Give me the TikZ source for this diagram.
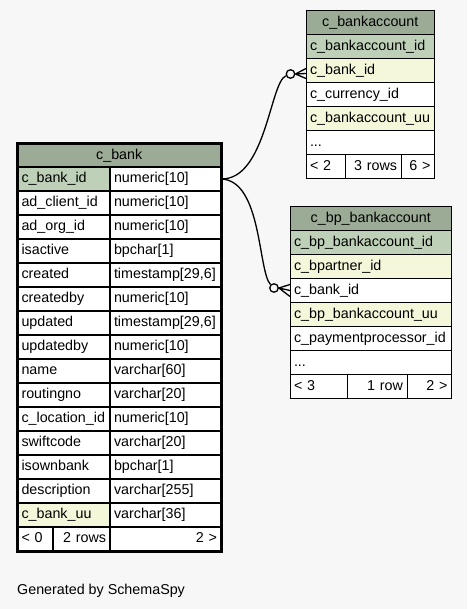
\documentclass[tikz,border=0pt]{standalone}
\usepackage{fontspec}
\setmainfont{Liberation Sans}
\usetikzlibrary{calc}
\definecolor{bg}{HTML}{F7F7F7}
\definecolor{hdrc}{HTML}{9BAB96}
\definecolor{pkc}{HTML}{BED1B8}
\definecolor{fkc}{HTML}{F4F7DA}
\newcommand\tabfont{\fontsize{14.3}{16}\selectfont}
\newcommand\moredots{...}
\tikzset{
  cell/.style 2 args={draw=black, line width=1pt, anchor=north west, outer sep=0pt,
    inner xsep=4pt, inner ysep=0pt, minimum height=24pt, minimum width=#1pt,
    text width=#2pt, font=\tabfont, text height=10.5pt, text depth=3pt},
  lft/.style={align=left},
  rgt/.style={align=right},
  ctr/.style={align=center},
  focus/.style={line width=1.6pt},
  rel/.style={line width=1.3pt, draw=black},
  opt/.style={circle, draw=black, line width=1.3pt, fill=bg, minimum size=8.5pt, inner sep=0pt},
}
\begin{document}
\begin{tikzpicture}[x=1pt,y=-1pt]
\fill[bg] (0,0) rectangle (467,609);
\useasboundingbox (0,0) rectangle (467,609);

% ---------------- c_bank ----------------
\node[cell={203.5}{195.5}, ctr, focus, fill=hdrc] (bank-h) at (17.5,143.5) {c\_bank};
\foreach \n/\t/\s [count=\i from 0] in {
  c\_bank\_id/numeric[10]/pkc,
  ad\_client\_id/numeric[10]/white,
  ad\_org\_id/numeric[10]/white,
  isactive/bpchar[1]/white,
  created/{timestamp[29,6]}/white,
  createdby/numeric[10]/white,
  updated/{timestamp[29,6]}/white,
  updatedby/numeric[10]/white,
  name/varchar[60]/white,
  routingno/varchar[20]/white,
  c\_location\_id/numeric[10]/white,
  swiftcode/varchar[20]/white,
  isownbank/bpchar[1]/white,
  description/varchar[255]/white,
  c\_bank\_uu/varchar[36]/fkc}{
  \node[cell={92.5}{84.5}, lft, focus, fill=\s] (bank-n\i) at (17.5,{167+24*\i}) {\n};
  \node[cell={111}{103}, lft, focus, fill=white] (bank-t\i) at (110,{167+24*\i}) {\t};
}
\node[cell={35.5}{27.5}, lft, focus, fill=white] (bank-f1) at (17.5,527) {< 0};
\node[cell={57}{49}, rgt, focus, fill=white] (bank-f2) at (53,527) {2 rows};
\node[cell={111}{103}, rgt, focus, fill=white] (bank-f3) at (110,527) {2 >};
\draw[line width=3pt] (17.5,143.5) rectangle (221,551.5);

% ---------------- c_bankaccount ----------------
\node[cell={128.5}{120.5}, ctr, fill=hdrc] (bacc-h) at (306,10.5) {c\_bankaccount};
\foreach \n/\s [count=\i from 0] in {
  c\_bankaccount\_id/pkc,
  c\_bank\_id/fkc,
  c\_currency\_id/white,
  c\_bankaccount\_uu/fkc,
  \moredots/white}{
  \node[cell={128.5}{120.5}, lft, fill=\s] (bacc-r\i) at (306,{34.5+24*\i}) {\n};
}
\node[cell={39}{31}, lft, fill=white] (bacc-f1) at (306,154.5) {< 2};
\node[cell={56}{48}, rgt, fill=white] (bacc-f2) at (345,154.5) {3 rows};
\node[cell={33.5}{25.5}, rgt, fill=white] (bacc-f3) at (401,154.5) {6 >};

% ---------------- c_bp_bankaccount ----------------
\node[cell={161.5}{153.5}, ctr, fill=hdrc] (bpba-h) at (290,206.5) {c\_bp\_bankaccount};
\foreach \n/\s [count=\i from 0] in {
  c\_bp\_bankaccount\_id/pkc,
  c\_bpartner\_id/fkc,
  c\_bank\_id/white,
  c\_bp\_bankaccount\_uu/fkc,
  c\_paymentprocessor\_id/white,
  \moredots/white}{
  \node[cell={161.5}{153.5}, lft, fill=\s] (bpba-r\i) at (290,{230.5+24*\i}) {\n};
}
\node[cell={57}{49}, lft, fill=white] (bpba-f1) at (290,374.5) {< 3};
\node[cell={60}{52}, rgt, fill=white] (bpba-f2) at (347,374.5) {1 row};
\node[cell={44.5}{36.5}, rgt, fill=white] (bpba-f3) at (407,374.5) {2 >};

% ---------------- relationships ----------------
\node[opt] (o1) at (290.5,74) {};
\node[opt] (o2) at (274,288) {};
\draw[rel] (bank-t0.east) .. controls (266,180) and (270,82) .. (o1);
\draw[rel] (bank-t0.east) .. controls (262,180) and (258,272) .. (o2);
\coordinate (k1a) at ($(bacc-r1.west)+(0,-2)$);
\coordinate (k1b) at ($(bacc-r1.west)+(0,3)$);
\coordinate (k1c) at ($(bacc-r1.west)+(0,8)$);
\draw[rel] (o1.east) -- (k1a) (o1.east) -- (k1b) (o1.east) -- (k1c);
\coordinate (k2a) at ($(bpba-r2.west)+(0,-6)$);
\coordinate (k2b) at ($(bpba-r2.west)+(0,0)$);
\coordinate (k2c) at ($(bpba-r2.west)+(0,6)$);
\draw[rel] (o2.east) -- (k2a) (o2.east) -- (k2b) (o2.east) -- (k2c);

% ---------------- footer ----------------
\node[anchor=base west, inner sep=0pt, font=\tabfont] (gen) at (17,594.5) {Generated by SchemaSpy};
\end{tikzpicture}
\end{document}
